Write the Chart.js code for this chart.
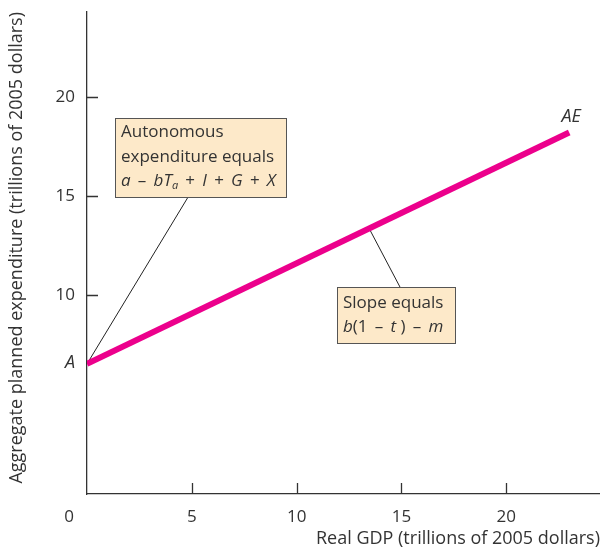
<!DOCTYPE html>
<html>
<head>
<meta charset="utf-8">
<script src="https://cdn.jsdelivr.net/npm/chart.js@4.4.0/dist/chart.umd.min.js"></script>
<style>
  html, body { margin: 0; padding: 0; background: #fff; }
  #wrap { width: 600px; height: 550px; }
</style>
</head>
<body>
<div id="wrap"><canvas id="aeChart" width="600" height="550"></canvas></div>
<script>
// AE line (trillions of 2005 dollars)
var gdp = [0, 23];
var plannedExp = [6.55, 18.2];
var xTicks = [0, 5, 10, 15, 20];
var yTicks = [10, 15, 20];
var xMax = 24.47;
var yMax = 24.27;

var ink = '#333';
var pink = '#ec008c';
var fontName = '"Open Sans"';
// operators with a bit more room than plain spaces
function op(c) { return ' \u2009' + c + ' \u2009'; }

function drawRich(ctx, x, y, parts, size) {
    parts.forEach(function (p) {
        var fs = p.sub ? Math.round(size * 0.65) : size;
        ctx.font = (p.i ? 'italic ' : '') + fs + 'px ' + fontName;
        ctx.fillText(p.t, x, y + (p.sub ? size * 0.3 : 0));
        x += ctx.measureText(p.t).width;
    });
}

function drawBox(ctx, x, y, w, h) {
    ctx.fillStyle = '#fde9c9';
    ctx.fillRect(x, y, w, h);
    ctx.strokeStyle = '#555';
    ctx.lineWidth = 1;
    ctx.strokeRect(x + 0.5, y + 0.5, w, h);
}

var extras = {
    id: 'extras',
    beforeDatasetsDraw: function (chart) {
        var ctx = chart.ctx, xs = chart.scales.x, ys = chart.scales.y;
        var slope = (plannedExp[1] - plannedExp[0]) / (gdp[1] - gdp[0]);
        ctx.save();
        ctx.strokeStyle = '#222';
        ctx.lineWidth = 1;
        // leader from A to the autonomous expenditure box
        ctx.beginPath();
        ctx.moveTo(xs.getPixelForValue(gdp[0]), ys.getPixelForValue(plannedExp[0]));
        ctx.lineTo(xs.getPixelForValue(4.82), ys.getPixelForValue(14.95));
        // leader from the line to the slope box
        var lx = 13.46;
        ctx.moveTo(xs.getPixelForValue(lx), ys.getPixelForValue(plannedExp[0] + slope * lx));
        ctx.lineTo(xs.getPixelForValue(14.93), ys.getPixelForValue(10.42));
        ctx.stroke();

        // inward tick marks
        ctx.strokeStyle = ink;
        ctx.lineWidth = 1.3;
        ctx.beginPath();
        xTicks.forEach(function (v) {
            if (v === 0) return;
            var px = Math.round(xs.getPixelForValue(v)) + 0.5;
            ctx.moveTo(px, xs.top);
            ctx.lineTo(px, xs.top - 11);
        });
        yTicks.forEach(function (v) {
            var py = Math.round(ys.getPixelForValue(v)) + 0.5;
            ctx.moveTo(ys.right, py);
            ctx.lineTo(ys.right + 11, py);
        });
        ctx.stroke();
        ctx.restore();
    },
    afterDatasetsDraw: function (chart) {
        var ctx = chart.ctx, xs = chart.scales.x, ys = chart.scales.y;
        ctx.save();
        ctx.textBaseline = 'middle';
        ctx.textAlign = 'left';

        // Autonomous expenditure box
        var bx = Math.round(xs.getPixelForValue(1.34)), by = Math.round(ys.getPixelForValue(18.93));
        drawBox(ctx, bx, by, 171, 79);
        ctx.fillStyle = ink;
        drawRich(ctx, bx + 6, by + 14, [{ t: 'Autonomous' }], 17);
        drawRich(ctx, bx + 6, by + 39, [{ t: 'expenditure equals' }], 17);
        drawRich(ctx, bx + 6, by + 63, [
            { t: 'a', i: true }, { t: op('\u2013') }, { t: 'bT', i: true }, { t: 'a', i: true, sub: true },
            { t: op('+') }, { t: 'I', i: true }, { t: op('+') }, { t: 'G', i: true },
            { t: op('+') }, { t: 'X', i: true }
        ], 17);

        // Slope box
        var sx = Math.round(xs.getPixelForValue(11.93)), sy = Math.round(ys.getPixelForValue(10.42));
        drawBox(ctx, sx, sy, 118, 56);
        ctx.fillStyle = ink;
        drawRich(ctx, sx + 6, sy + 16, [{ t: 'Slope equals' }], 17);
        drawRich(ctx, sx + 6, sy + 40, [
            { t: 'b', i: true }, { t: '(1' + op('\u2013') }, { t: 't', i: true },
            { t: ' )' + op('\u2013') }, { t: 'm', i: true }
        ], 17);

        // point and curve labels
        ctx.font = 'italic 18px ' + fontName;
        ctx.textAlign = 'right';
        ctx.fillText('A', xs.getPixelForValue(0) - 12, ys.getPixelForValue(plannedExp[0]) - 1);
        ctx.textAlign = 'center';
        ctx.fillText('AE', xs.getPixelForValue(gdp[1]) + 2, ys.getPixelForValue(plannedExp[1]) - 16);

        // shared origin label
        ctx.font = '17px ' + fontName;
        ctx.fillText('0', xs.getPixelForValue(0) - 18, xs.top + 23);
        ctx.restore();
    }
};

function noPad(s) {
    s.paddingTop = 0;
    s.paddingBottom = 0;
    s.paddingLeft = 0;
    s.paddingRight = 0;
}

var ctx = document.getElementById('aeChart');
var aeChart = new Chart(ctx, {
    type: 'scatter',
    data: {
        datasets: [{
            label: 'AE',
            data: gdp.map(function (g, i) { return { x: g, y: plannedExp[i] }; }),
            showLine: true,
            borderColor: pink,
            backgroundColor: pink,
            borderWidth: 6,
            pointRadius: 0,
            borderCapStyle: 'butt'
        }]
    },
    options: {
        responsive: false,
        animation: false,
        layout: { padding: { top: 12, right: 0, left: 0, bottom: 0 } },
        plugins: { legend: { display: false }, tooltip: { enabled: false } },
        scales: {
            x: {
                type: 'linear',
                min: 0,
                max: xMax,
                afterBuildTicks: function (s) { s.ticks = xTicks.map(function (v) { return { value: v }; }); },
                afterFit: function (s) { s.height = 56; noPad(s); },
                grid: { display: false, drawTicks: false },
                border: { color: ink, width: 1.3 },
                ticks: {
                    padding: 13,
                    color: ink,
                    font: { family: fontName, size: 17 },
                    callback: function (v) { return v === 0 ? '' : v; }
                },
                title: {
                    display: true,
                    text: 'Real GDP (trillions of 2005 dollars)',
                    align: 'end',
                    color: ink,
                    padding: { top: 0, bottom: 0 },
                    font: { family: fontName, size: 18 }
                }
            },
            y: {
                type: 'linear',
                min: 0,
                max: yMax,
                afterBuildTicks: function (s) { s.ticks = yTicks.map(function (v) { return { value: v }; }); },
                afterFit: function (s) { s.width = 87; noPad(s); },
                grid: { display: false, drawTicks: false },
                border: { color: ink, width: 1.3 },
                ticks: {
                    padding: 12,
                    color: ink,
                    font: { family: fontName, size: 17 }
                },
                title: {
                    display: true,
                    text: 'Aggregate planned expenditure (trillions of 2005 dollars)',
                    align: 'end',
                    color: ink,
                    padding: { top: 6, bottom: 0 },
                    font: { family: fontName, size: 18 }
                }
            }
        }
    },
    plugins: [extras]
});
</script>
</body>
</html>
